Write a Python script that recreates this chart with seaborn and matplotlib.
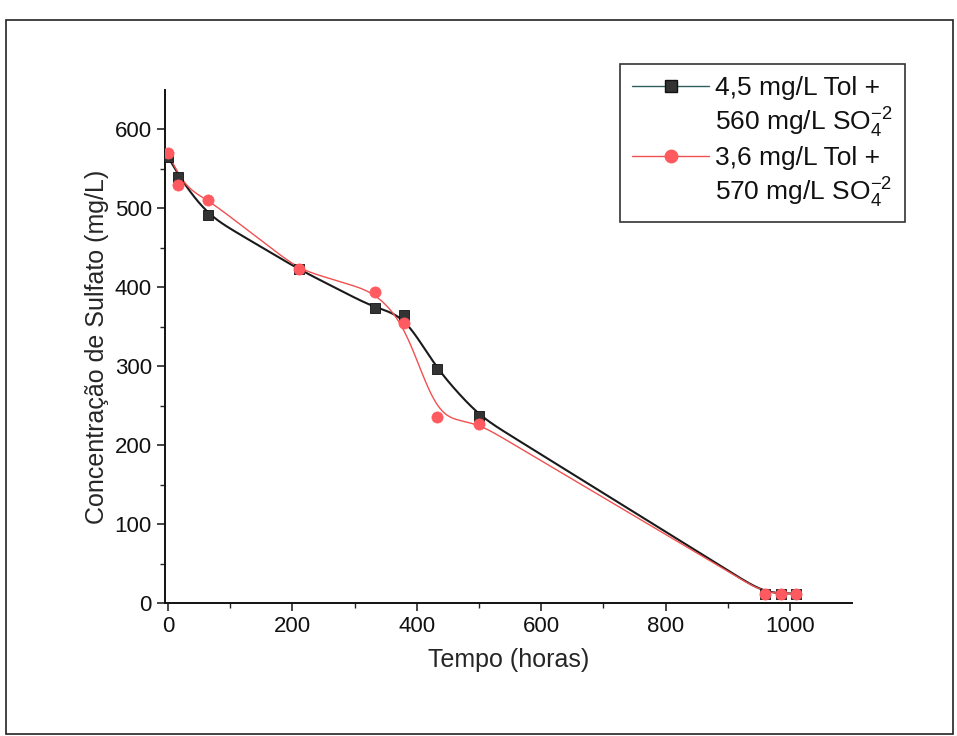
import numpy as np
import pandas as pd
import matplotlib
matplotlib.use("Agg")
import matplotlib.pyplot as plt
from matplotlib.lines import Line2D
from matplotlib.patches import Rectangle
import seaborn as sns

# ---- data ----
tempo_a = [0, 16, 64, 210, 332, 380, 432, 500, 960, 985, 1010]
sulfato_a = [565, 540, 491, 423, 374, 365, 296, 237, 12, 12, 12]
tempo_b = [0, 16, 64, 210, 332, 380, 432, 500, 960, 985, 1010]
sulfato_b = [570, 530, 511, 423, 394, 355, 236, 227, 12, 12, 12]
label_a = ["4,5 mg/L Tol +", "560 mg/L SO$_4^{-2}$"]
label_b = ["3,6 mg/L Tol +", "570 mg/L SO$_4^{-2}$"]
x_ticks = [0, 200, 400, 600, 800, 1000]
y_ticks = [0, 100, 200, 300, 400, 500, 600]


def smooth_curve(x, y, xs, sigma):
    """Linear path through the points, rounded with a gaussian kernel (spline-like look)."""
    lin = np.interp(xs, x, y)
    step = xs[1] - xs[0]
    half = int(4 * sigma / step)
    k = np.exp(-0.5 * (np.arange(-half, half + 1) * step / sigma) ** 2)
    k /= k.sum()
    padded = np.concatenate([2 * lin[0] - lin[half:0:-1], lin, 2 * lin[-1] - lin[-2:-half - 2:-1]])
    return np.convolve(padded, k, mode="valid")


sns.set_style("ticks")
plt.rcParams["font.family"] = ["Liberation Sans", "DejaVu Sans"]
plt.rcParams["mathtext.fontset"] = "custom"
plt.rcParams["mathtext.rm"] = "Liberation Sans"
plt.rcParams["mathtext.it"] = "Liberation Sans"
plt.rcParams["text.color"] = "#111111"

fig = plt.figure(figsize=(9.57, 7.36), dpi=100)
ax = fig.add_axes([0.1724, 0.1807, 0.718, 0.697])

col_a_line = "#1a1a1a"; col_a_mk = "#333333"
col_b_line = "#f05050"; col_b_mk = "#ff5a5f"

xs = np.linspace(0, 1010, 1011)
df_ca = pd.DataFrame({"t": xs, "c": smooth_curve(tempo_a, sulfato_a, xs, 20)})
df_cb = pd.DataFrame({"t": xs, "c": smooth_curve(tempo_b, sulfato_b, xs, 19)})
sns.lineplot(data=df_ca, x="t", y="c", ax=ax, color=col_a_line, lw=1.5, sort=False)
sns.lineplot(data=df_cb, x="t", y="c", ax=ax, color=col_b_line, lw=1.0, sort=False)

df_a = pd.DataFrame({"t": tempo_a, "c": sulfato_a})
df_b = pd.DataFrame({"t": tempo_b, "c": sulfato_b})
sns.scatterplot(data=df_a, x="t", y="c", ax=ax, marker="s", s=55, color=col_a_mk,
                edgecolor="#111111", linewidth=0.6, zorder=3)
sns.scatterplot(data=df_b, x="t", y="c", ax=ax, marker="o", s=65, color=col_b_mk,
                edgecolor=col_b_mk, linewidth=0.5, zorder=4)

ax.set_xlim(-5, 1100)
ax.set_ylim(0, 650)
ax.set_xticks(x_ticks)
ax.set_yticks(y_ticks)
ax.set_xticks(np.arange(100, 1100, 200), minor=True)
ax.set_yticks(np.arange(50, 650, 100), minor=True)
ax.tick_params(axis="both", which="major", labelsize=16, length=6, width=1.2,
               direction="out", labelcolor="#111111")
ax.tick_params(axis="both", which="minor", length=3.5, width=1.0, direction="out")
for s in ["top", "right"]:
    ax.spines[s].set_visible(False)
for s in ["left", "bottom"]:
    ax.spines[s].set_linewidth(1.4)
    ax.spines[s].set_color("#111111")
ax.set_xlabel("Tempo (horas)", fontsize=18, labelpad=8)
ax.set_ylabel("Concentração de Sulfato (mg/L)", fontsize=18, labelpad=4)

blank = Line2D([], [], color="none", marker=None)
handles = [
    Line2D([], [], color="#2f5f5f", lw=1.0, marker="s", markersize=8,
           markerfacecolor=col_a_mk, markeredgecolor="#111111"),
    blank,
    Line2D([], [], color=col_b_line, lw=1.0, marker="o", markersize=9,
           markerfacecolor=col_b_mk, markeredgecolor=col_b_mk),
    blank,
]
leg = ax.legend(handles, [label_a[0], label_a[1], label_b[0], label_b[1]],
                loc="upper right", bbox_to_anchor=(1.077, 1.05), fontsize=19,
                frameon=True, fancybox=False, edgecolor="black", handlelength=2.9,
                borderpad=0.45, labelspacing=0.22, handletextpad=0.25,
                borderaxespad=0.0)
leg.get_frame().set_linewidth(1.2)

fig.patches.append(Rectangle((0.006, 0.003), 0.99, 0.97, transform=fig.transFigure,
                             fill=False, edgecolor="#222222", lw=1.2))

fig.savefig("out.png", dpi=100)
